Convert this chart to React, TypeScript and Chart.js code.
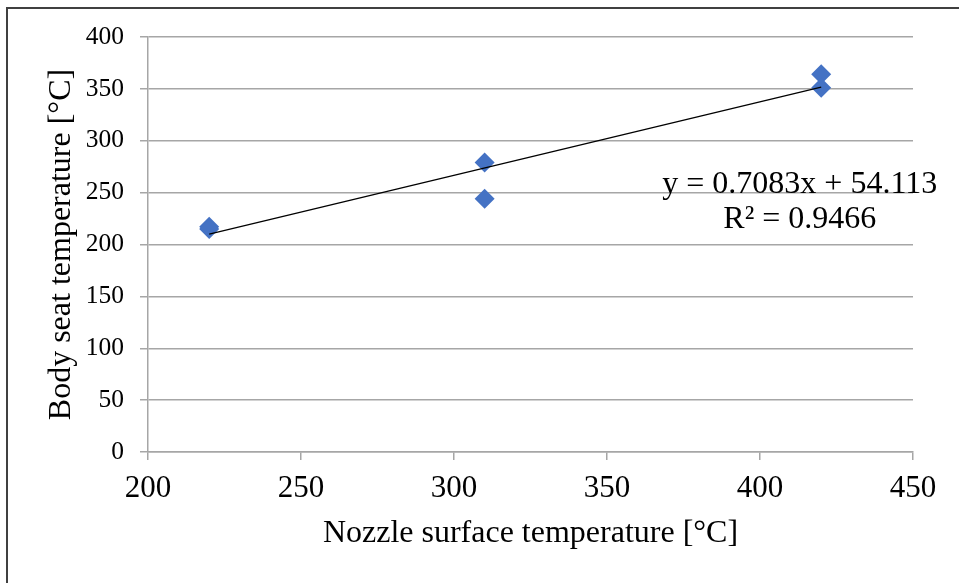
import React, { useEffect, useRef } from "react";
import { Chart, registerables } from "chart.js";

Chart.register(...registerables);

// ---- data ----
const nozzleTemps = [220, 220, 310, 310, 420, 420];
const seatTemps = [217, 215, 279, 244, 364, 351];
const trendSlope = 0.7083;
const trendIntercept = 54.113;
const rSquared = 0.9466;
const xTickValues = [200, 250, 300, 350, 400, 450];
const yTickValues = [0, 50, 100, 150, 200, 250, 300, 350, 400];
const xTitle = "Nozzle surface temperature [°C]";
const yTitle = "Body seat temperature [°C]";
const equationLines = [`y = ${trendSlope}x + ${trendIntercept}`, `R² = ${rSquared}`];
// anchor of the equation label (in data units)
const equationAnchorX = 413;
const equationAnchorY = 258;

const FONT = "'Liberation Serif', 'Times New Roman', serif";
const GRID = "#a6a6a6";

export default function App() {
  const ref = useRef<HTMLCanvasElement | null>(null);

  useEffect(() => {
    if (!ref.current) return;
    const xMin = Math.min(...nozzleTemps);
    const xMax = Math.max(...nozzleTemps);
    const trend = [xMin, xMax].map((x) => ({ x, y: trendSlope * x + trendIntercept }));
    const points = nozzleTemps.map((x, i) => ({ x, y: seatTemps[i] }));

    const framePlugin = {
      id: "frame",
      beforeDraw(chart: any) {
        const ctx = chart.ctx;
        ctx.save();
        ctx.fillStyle = "#ffffff";
        ctx.fillRect(0, 0, chart.width, chart.height);
        ctx.strokeStyle = "#404040";
        ctx.lineWidth = 2;
        ctx.strokeRect(7, 8, 2000, 2000);
        ctx.restore();
      },
    };

    const equationPlugin = {
      id: "equation",
      afterDatasetsDraw(chart: any) {
        const ctx = chart.ctx;
        const xs = chart.scales.x;
        const ys = chart.scales.y;
        const cx = xs.getPixelForValue(equationAnchorX);
        const cy = ys.getPixelForValue(equationAnchorY);
        ctx.save();
        ctx.fillStyle = "#000000";
        ctx.font = `32px ${FONT}`;
        ctx.textAlign = "center";
        ctx.textBaseline = "middle";
        equationLines.forEach((t, i) => ctx.fillText(t, cx, cy + i * 35));
        ctx.restore();
      },
    };

    const chart = new Chart(ref.current, {
      type: "scatter",
      data: {
        datasets: [
          {
            type: "line",
            data: trend,
            borderColor: "#000000",
            borderWidth: 1.3,
            pointRadius: 0,
            fill: false,
            order: 0,
          } as any,
          {
            type: "scatter",
            data: points,
            pointStyle: "rectRot",
            pointRadius: 10,
            backgroundColor: "#4472C4",
            borderColor: "#4472C4",
            borderWidth: 0,
            order: 1,
          },
        ],
      },
      options: {
        animation: false,
        responsive: false,
        devicePixelRatio: 1,
        layout: { padding: { left: 0, top: 37, right: 46, bottom: 0 } },
        plugins: { legend: { display: false }, tooltip: { enabled: false } },
        scales: {
          x: {
            type: "linear",
            min: xTickValues[0],
            max: xTickValues[xTickValues.length - 1],
            afterBuildTicks: (s: any) => {
              s.ticks = xTickValues.map((v) => ({ value: v }));
            },
            afterFit: (s: any) => {
              s.height = 131;
            },
            ticks: {
              font: { family: FONT, size: 31 },
              color: "#000000",
              padding: 10,
            },
            grid: { drawOnChartArea: false, drawTicks: true, tickLength: 8, color: GRID, lineWidth: 1.5 },
            border: { color: GRID, width: 1.5 },
            title: {
              display: true,
              text: xTitle,
              font: { family: FONT, size: 32 },
              color: "#000000",
              padding: { top: 0, bottom: 30 },
            },
          },
          y: {
            type: "linear",
            min: yTickValues[0],
            max: yTickValues[yTickValues.length - 1],
            afterBuildTicks: (s: any) => {
              s.ticks = yTickValues.map((v) => ({ value: v }));
            },
            afterFit: (s: any) => {
              s.width = 148;
            },
            ticks: {
              font: { family: FONT, size: 25.5 },
              color: "#000000",
              padding: 16,
            },
            grid: { drawOnChartArea: true, drawTicks: true, tickLength: 8, color: GRID, lineWidth: 1.5 },
            border: { color: GRID, width: 1.5 },
            title: {
              display: true,
              text: yTitle,
              font: { family: FONT, size: 32 },
              color: "#000000",
              padding: { top: 42, bottom: 0 },
            },
          },
        },
      } as any,
      plugins: [framePlugin, equationPlugin],
    });
    return () => chart.destroy();
  }, []);

  return (
    <div style={{ position: "absolute", left: 0, top: 0, width: 959, height: 583 }}>
      <canvas ref={ref} width={959} height={583} style={{ display: "block" }} />
    </div>
  );
}
